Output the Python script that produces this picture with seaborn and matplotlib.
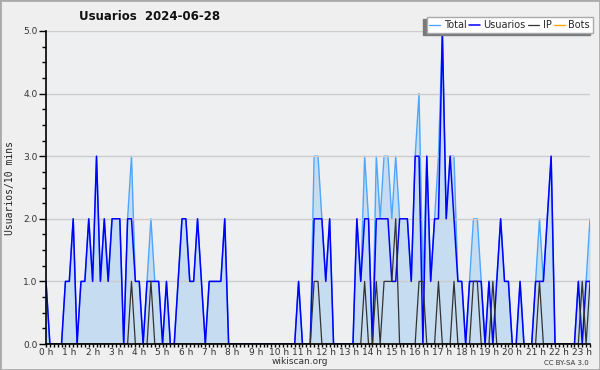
import numpy as np
import pandas as pd
import matplotlib
matplotlib.use("Agg")
import matplotlib.pyplot as plt
import seaborn as sns
from matplotlib.patches import Rectangle
from matplotlib.ticker import FixedLocator, MultipleLocator, FormatStrFormatter

# ---- data: one value per 10 minutes, rows = hours ----
usuarios = [
    1, 0, 0, 0, 0, 1,
    1, 2, 0, 1, 1, 2,
    1, 3, 1, 2, 1, 2,
    2, 2, 0, 2, 2, 1,
    1, 0, 1, 1, 1, 1,
    0, 1, 0, 0, 1, 2,
    2, 1, 1, 2, 1, 0,
    1, 1, 1, 1, 2, 0,
    0, 0, 0, 0, 0, 0,
    0, 0, 0, 0, 0, 0,
    0, 0, 0, 0, 0, 1,
    0, 0, 0, 2, 2, 2,
    1, 2, 0, 0, 0, 0,
    0, 0, 2, 1, 2, 2,
    0, 2, 2, 2, 2, 1,
    1, 2, 2, 2, 1, 3,
    3, 0, 3, 1, 2, 2,
    5, 2, 3, 2, 1, 1,
    0, 1, 1, 1, 1, 0,
    1, 0, 1, 2, 1, 1,
    0, 0, 1, 0, 0, 0,
    1, 1, 1, 2, 3, 0,
    0, 0, 0, 0, 0, 1,
    0, 1, 1,
]
ip = [
    0, 0, 0, 0, 0, 0,
    0, 0, 0, 0, 0, 0,
    0, 0, 0, 0, 0, 0,
    0, 0, 0, 0, 1, 0,
    0, 0, 0, 1, 0, 0,
    0, 0, 0, 0, 0, 0,
    0, 0, 0, 0, 0, 0,
    0, 0, 0, 0, 0, 0,
    0, 0, 0, 0, 0, 0,
    0, 0, 0, 0, 0, 0,
    0, 0, 0, 0, 0, 0,
    0, 0, 0, 1, 1, 0,
    0, 0, 0, 0, 0, 0,
    0, 0, 0, 0, 1, 0,
    0, 1, 0, 1, 1, 1,
    2, 0, 0, 0, 0, 0,
    1, 1, 0, 0, 0, 1,
    0, 0, 0, 1, 0, 0,
    0, 0, 1, 1, 0, 0,
    0, 1, 0, 0, 0, 0,
    0, 0, 0, 0, 0, 0,
    0, 1, 0, 0, 0, 0,
    0, 0, 0, 0, 0, 0,
    1, 0, 1,
]
total = [
    1, 0, 0, 0, 0, 1,
    1, 2, 0, 1, 1, 2,
    1, 3, 1, 2, 1, 2,
    2, 2, 0, 2, 3, 1,
    1, 0, 1, 2, 1, 1,
    0, 1, 0, 0, 1, 2,
    2, 1, 1, 2, 1, 0,
    1, 1, 1, 1, 2, 0,
    0, 0, 0, 0, 0, 0,
    0, 0, 0, 0, 0, 0,
    0, 0, 0, 0, 0, 1,
    0, 0, 0, 3, 3, 2,
    1, 2, 0, 0, 0, 0,
    0, 0, 2, 1, 3, 2,
    0, 3, 2, 3, 3, 2,
    3, 2, 2, 2, 1, 3,
    4, 1, 3, 1, 2, 3,
    5, 2, 3, 3, 1, 1,
    0, 1, 2, 2, 1, 0,
    1, 1, 1, 2, 1, 1,
    0, 0, 1, 0, 0, 0,
    1, 2, 1, 2, 3, 0,
    0, 0, 0, 0, 0, 1,
    1, 1, 2,
]
bots = [0] * len(total)
hour_labels = [f"{h} h" for h in range(24)]
y_ticks = [0, 1, 2, 3, 4, 5]

# ---- figure ----
sns.set_theme(style="white")
plt.rcParams["font.family"] = ["DejaVu Sans"]

W, H = 600, 370
fig = plt.figure(figsize=(W / 100, H / 100), dpi=100, facecolor="#EFEFEF")
ax = fig.add_axes([46 / W, 1 - 344 / H, 544 / W, 313 / H])
ax.set_facecolor("#EEEFF1")

n = len(total)
df = pd.DataFrame({"x": np.arange(n), "Total": total, "Usuarios": usuarios,
                   "IP": ip, "Bots": bots})

ax.fill_between(df["x"], df["Total"], color="#C6DCF0", lw=0, zorder=1)
sns.lineplot(data=df, x="x", y="Bots", ax=ax, color="#FFA500", lw=1.0,
             label="Bots", zorder=1.2)
sns.lineplot(data=df, x="x", y="Total", ax=ax, color="#4DA6FF", lw=1.0,
             label="Total", zorder=2)
sns.lineplot(data=df, x="x", y="Usuarios", ax=ax, color="#0000FF", lw=1.1,
             label="Usuarios", zorder=3)
sns.lineplot(data=df, x="x", y="IP", ax=ax, color="#333333", lw=0.9,
             label="IP", zorder=3.5)

ax.set_xlim(0, n - 1)
ax.set_ylim(0, 5)
ax.set_xlabel("")
ax.set_ylabel("")

ax.xaxis.set_major_locator(FixedLocator(list(range(0, n, 6))))
ax.set_xticklabels(hour_labels[: len(range(0, n, 6))])
ax.xaxis.set_minor_locator(MultipleLocator(1))
ax.set_yticks(y_ticks)
ax.yaxis.set_major_formatter(FormatStrFormatter("%.1f"))
ax.yaxis.set_minor_locator(MultipleLocator(0.25))

ax.tick_params(axis="both", which="both", direction="out", bottom=True,
               left=True, colors="#000000", labelcolor="#333333",
               labelsize=6.5, width=1, pad=1)
ax.tick_params(axis="y", which="major", length=5)
ax.tick_params(axis="y", which="minor", length=3)
ax.tick_params(axis="x", which="both", length=2.5, pad=0.3)

for s in ["top", "right"]:
    ax.spines[s].set_visible(False)
for s in ["left", "bottom"]:
    ax.spines[s].set_color("#000000")
    ax.spines[s].set_linewidth(1.2)
    ax.spines[s].set_zorder(5)

ax.yaxis.grid(True, color="#CCCCCC", lw=1, zorder=1.5)
ax.set_axisbelow(False)
for gl in ax.get_ygridlines():
    gl.set_zorder(1.5)

handles, labels = ax.get_legend_handles_labels()
order = ["Total", "Usuarios", "IP", "Bots"]
hmap = dict(zip(labels, handles))
leg = ax.legend([hmap[k] for k in order], order, loc="upper right",
                bbox_to_anchor=(593 / W, 1 - 17 / H),
                bbox_transform=fig.transFigure, ncol=4, fontsize=7,
                frameon=True, fancybox=False, framealpha=1,
                edgecolor="#AAAAAA", facecolor="#FFFFFF",
                shadow={"ox": -2.4, "oy": -1.8, "facecolor": "#7A7A7A",
                        "edgecolor": "#7A7A7A", "alpha": 1},
                handlelength=1.1, handletextpad=0.35, columnspacing=0.3,
                borderpad=0.3, borderaxespad=0)
leg.set_zorder(10)

fig.text(150 / W, 1 - 16 / H, "Usuarios  2024-06-28", ha="center",
         va="center", fontsize=8.5, fontweight="bold", color="#111111")
fig.text(10 / W, 1 - 188 / H, "Usuarios/10 mins", rotation=90, ha="center",
         va="center", fontsize=7, family="DejaVu Sans Mono", color="#222222")
fig.text(300 / W, 1 - 362 / H, "wikiscan.org", ha="center", va="center",
         fontsize=6.5, color="#333333")
fig.text(589 / W, 1 - 363 / H, "CC BY-SA 3.0", ha="right", va="center",
         fontsize=5, color="#333333")

fig.patches.append(Rectangle((0, 0), 1, 1, transform=fig.transFigure,
                             fill=False, edgecolor="#AAAAAA", lw=2))

fig.savefig("out.png", dpi=100, facecolor=fig.get_facecolor())
